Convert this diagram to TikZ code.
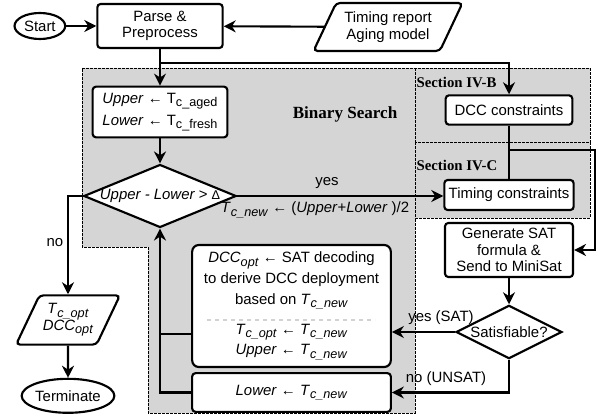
\documentclass[tikz,border=0pt]{standalone}
\usepackage{fontspec}
\setmainfont{Liberation Sans}
\newfontfamily\headfont{Liberation Serif}
\usetikzlibrary{positioning,shapes.geometric,arrows.meta}

\newcommand{\lowsub}[1]{\raisebox{-0.45ex}{\fontsize{9.5}{10}\selectfont #1}}
\newcommand{\Tc}[1]{\textit{T}\lowsub{\textit{c\_#1}}}

\tikzset{
  every node/.style={font=\fontsize{11.2}{12.5}\selectfont},
  line/.style={line width=1.6pt},
  arrow/.style={line width=1.6pt,-{Stealth[length=9pt,width=9pt]}},
  box/.style={draw,line width=1.6pt,rounded corners=2.5pt,fill=white,align=center,inner sep=2pt},
  term/.style={draw,ellipse,line width=1.6pt,fill=white,inner sep=0pt},
  io/.style={draw,trapezium,trapezium left angle=58,trapezium right angle=122,trapezium stretches=true,
    line width=1.6pt,rounded corners=3pt,fill=white,align=center,inner sep=0pt},
  cond/.style={draw,diamond,line width=1.6pt,fill=white,inner sep=0pt},
  region/.style={draw,fill=gray!33,dash pattern=on 2pt off 1pt,line width=0.6pt},
  head/.style={font=\headfont\bfseries\fontsize{11.1}{13}\selectfont,inner sep=1pt},
  sepline/.style={draw=gray!35,dashed,line width=0.8pt}
}

\begin{document}
\begin{tikzpicture}[x=0.75pt,y=-0.75pt]
\useasboundingbox (0,0) rectangle (600,416);

\draw[region] (82,68) -- (415,68) -- (415,413) -- (148,413) -- (148,247) -- (82,247) -- cycle;
\draw[region] (415,68) rectangle (590,142);
\draw[region] (415,142) rectangle (590,218);

\node[box, minimum width=94pt, minimum height=33pt] (parse) at (160,26) {Parse \&\\Preprocess};
\node[term, minimum width=38pt, minimum height=19.5pt, left=22.5pt of parse] (start) {Start};
\node[io, minimum width=112pt, minimum height=36pt] (report) at (388,27) {Timing report\\Aging model};
\node[box, align=left, minimum width=101pt, minimum height=38pt, font=\fontsize{11.2}{16.5}\selectfont] (init) at (160,112)
  {\textit{Upper} ← T\lowsub{c\_aged}\\\textit{Lower} ← T\lowsub{c\_fresh}};
\node[cond, shape aspect=2.42, minimum width=112.5pt, minimum height=46.5pt] (check) at (160,196)
  {\textit{Upper - Lower >} {\fontsize{9.5}{10}\selectfont Δ}};
\node[head, font=\headfont\bfseries\fontsize{12.8}{15}\selectfont] (bstitle) at (345,114) {Binary Search};
\node[head, anchor=west] (secb) at (415,82) {Section IV-B};
\node[head, anchor=west] (secc) at (415,165) {Section IV-C};

\node[box, minimum width=95pt, minimum height=22pt] (dcc) at (509,110) {DCC constraints};
\node[box, minimum width=97pt, minimum height=22.5pt] (timing) at (509,195) {Timing constraints};
\node[box, minimum width=96pt, minimum height=40.5pt] (gensat) at (509,250) {Generate SAT\\formula \&\\Send to MiniSat};
\node[cond, shape aspect=2, minimum width=79.5pt, minimum height=40pt] (sat) at (509,332) {Satisfiable?};

\node[box, rounded corners=5pt, minimum width=149pt, minimum height=91.5pt, font=\fontsize{11.2}{15.5}\selectfont] (update) at (291.5,306)
  {\textit{DCC}\lowsub{\textit{opt}} ← SAT decoding\\
   to derive DCC deployment\\
   based on \Tc{new}\\[7pt]
   \Tc{opt} ← \Tc{new}\\
   \textit{Upper} ← \Tc{new}};
\node[box, minimum width=149pt, minimum height=29pt] (lower) at (291.5,392.5) {\textit{Lower} ← \Tc{new}};

\node[io, minimum width=78pt, minimum height=37pt] (out) at (68,320) {\Tc{opt}\\\textit{DCC}\lowsub{\textit{opt}}};
\node[term, minimum width=67.5pt, minimum height=25.5pt, below=24pt of out] (stop) {Terminate};

\node (lblyes) at (327,183) {yes};
\node (lblmid) at (315,210) {\Tc{new} ← (\textit{Upper}+\textit{Lower} )/2};
\node (lblno) at (55,243) {no};
\node (lblsat) at (441,318) {yes (SAT)};
\node (lblunsat) at (446,379) {no (UNSAT)};

\coordinate[below=10.5pt of parse.south] (fork);
\coordinate (fork2) at (509,150);
\coordinate (bend) at (595,150);
\coordinate (join) at (160,334);
\coordinate (sep) at (291,320);

\draw[arrow] (start) -- (parse);
\draw[arrow] (report) -- (parse);
\draw[arrow] (parse) -- (init);
\draw[arrow] (fork) -| (dcc);
\draw[line] (dcc) -- (timing);
\draw[arrow] (fork2) -- (bend) |- (gensat);
\draw[arrow] (gensat) -- (sat);
\draw[arrow] (sat.west) -- (update.east |- sat.west);
\draw[arrow] (sat) |- (lower);
\draw[arrow] (init) -- (check);
\draw[arrow] (check.east) -- (check.east -| timing.west);
\draw[arrow] (check) -| (out);
\draw[arrow] (out) -- (stop);
\draw[arrow] (lower) -| (check);
\draw[line] (update.west |- join) -- (join);
\draw[sepline] ([xshift=-63pt]sep) -- ([xshift=63pt]sep);
\end{tikzpicture}
\end{document}
